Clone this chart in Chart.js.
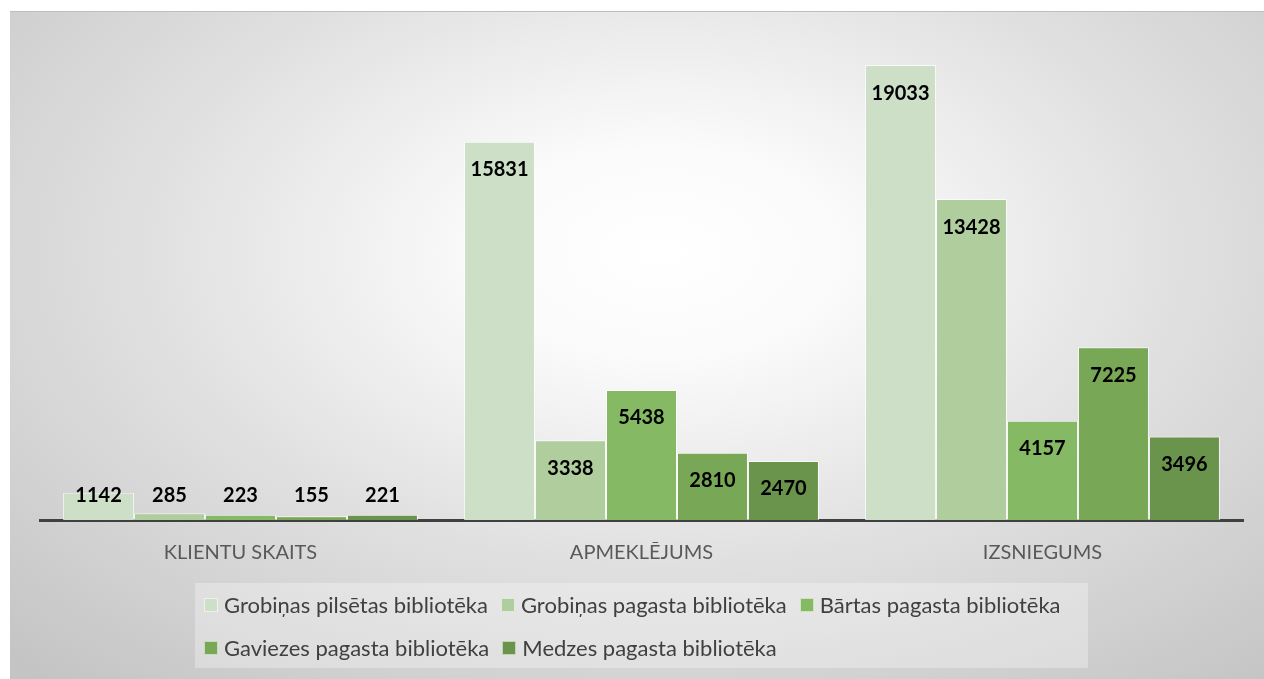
<!DOCTYPE html>
<html>
<head>
<meta charset="utf-8">
<script src="https://cdn.jsdelivr.net/npm/chart.js@4.4.1/dist/chart.umd.min.js"></script>
<style>
body{margin:0;background:#fff;}
#wrap{
    position:absolute;left:10px;top:11px;width:1254px;height:668px;
    background:radial-gradient(ellipse 75% 85% at 52% 36%, #ffffff 0%, #fbfbfb 18%, #e0e0e0 55%, #c4c4c4 100%);
    border-top:1px solid #bdbdbd;
    box-sizing:border-box;
}
#legend{
    position:absolute;left:185px;top:571px;width:893px;height:85px;
    background:rgba(255,255,255,0.3);
    font-family:Lato,"Open Sans",sans-serif;font-size:22px;color:#404040;
    box-sizing:border-box;padding-left:9px;
}
.row{display:flex;align-items:center;height:43px;}
.item{display:flex;align-items:center;margin-right:13px;white-space:nowrap;}
.box{width:12px;height:12px;margin-right:6px;border:1px solid rgba(255,255,255,0.6);}
</style>
</head>
<body>
<div id="wrap">
    <canvas id="chart"></canvas>
    <div id="legend"></div>
</div>
<script>
const categories = ["KLIENTU SKAITS","APMEKLĒJUMS","IZSNIEGUMS"];
const seriesNames = [
    "Grobiņas pilsētas bibliotēka",
    "Grobiņas pagasta bibliotēka",
    "Bārtas pagasta bibliotēka",
    "Gaviezes pagasta bibliotēka",
    "Medzes pagasta bibliotēka"
];
const grobinasPilsetas = [1142,15831,19033];
const grobinasPagasta = [285,3338,13428];
const bartas = [223,5438,4157];
const gaviezes = [155,2810,7225];
const medzes = [221,2470,3496];
const colors = ["#cddfc7","#b0cd9e","#86b963","#78a756","#6a934c"];

const values = [grobinasPilsetas,grobinasPagasta,bartas,gaviezes,medzes];

const labelPlugin = {
    id:"barLabels",
    afterDatasetsDraw(chart){
        const c = chart.ctx;
        c.save();
        c.font = "bold 20px Lato, 'Open Sans', sans-serif";
        c.fillStyle = "#000";
        c.textAlign = "center";
        c.textBaseline = "middle";
        chart.data.datasets.forEach((ds,i)=>{
            const meta = chart.getDatasetMeta(i);
            meta.data.forEach((bar,j)=>{
                const y = Math.min(bar.y + 28, bar.base - 24);
                c.fillText(ds.data[j], bar.x, y);
            });
        });
        c.restore();
    }
};

const ctx = document.getElementById("chart");

const chart = new Chart(ctx,{
    type:"bar",
    data:{
        labels:categories,
        datasets:seriesNames.map((name,i)=>({
            label:name,
            data:values[i],
            backgroundColor:colors[i],
            borderColor:"rgba(255,255,255,0.7)",
            borderWidth:1,
            categoryPercentage:0.885,
            barPercentage:1
        }))
    },
    options:{
        responsive:true,
        maintainAspectRatio:false,
        animation:false,
        layout:{padding:{left:30,right:21,top:30,bottom:101}},
        plugins:{
            legend:{display:false},
            tooltip:{enabled:false}
        },
        scales:{
            x:{
                grid:{display:false},
                border:{display:true,color:"#404040",width:3},
                ticks:{
                    color:"#595959",
                    padding:13,
                    font:{family:"Lato",size:20}
                }
            },
            y:{
                display:false,
                min:0,
                max:20000
            }
        }
    },
    plugins:[labelPlugin]
});

// legend: first three items on row one, last two on row two
const legend = document.getElementById("legend");
[[0,1,2],[3,4]].forEach(idx=>{
    const row = document.createElement("div");
    row.className = "row";
    idx.forEach(i=>{
        const item = document.createElement("div");
        item.className = "item";
        item.innerHTML = `<span class="box" style="background:${colors[i]}"></span>${seriesNames[i]}`;
        row.appendChild(item);
    });
    legend.appendChild(row);
});
</script>
</body>
</html>
